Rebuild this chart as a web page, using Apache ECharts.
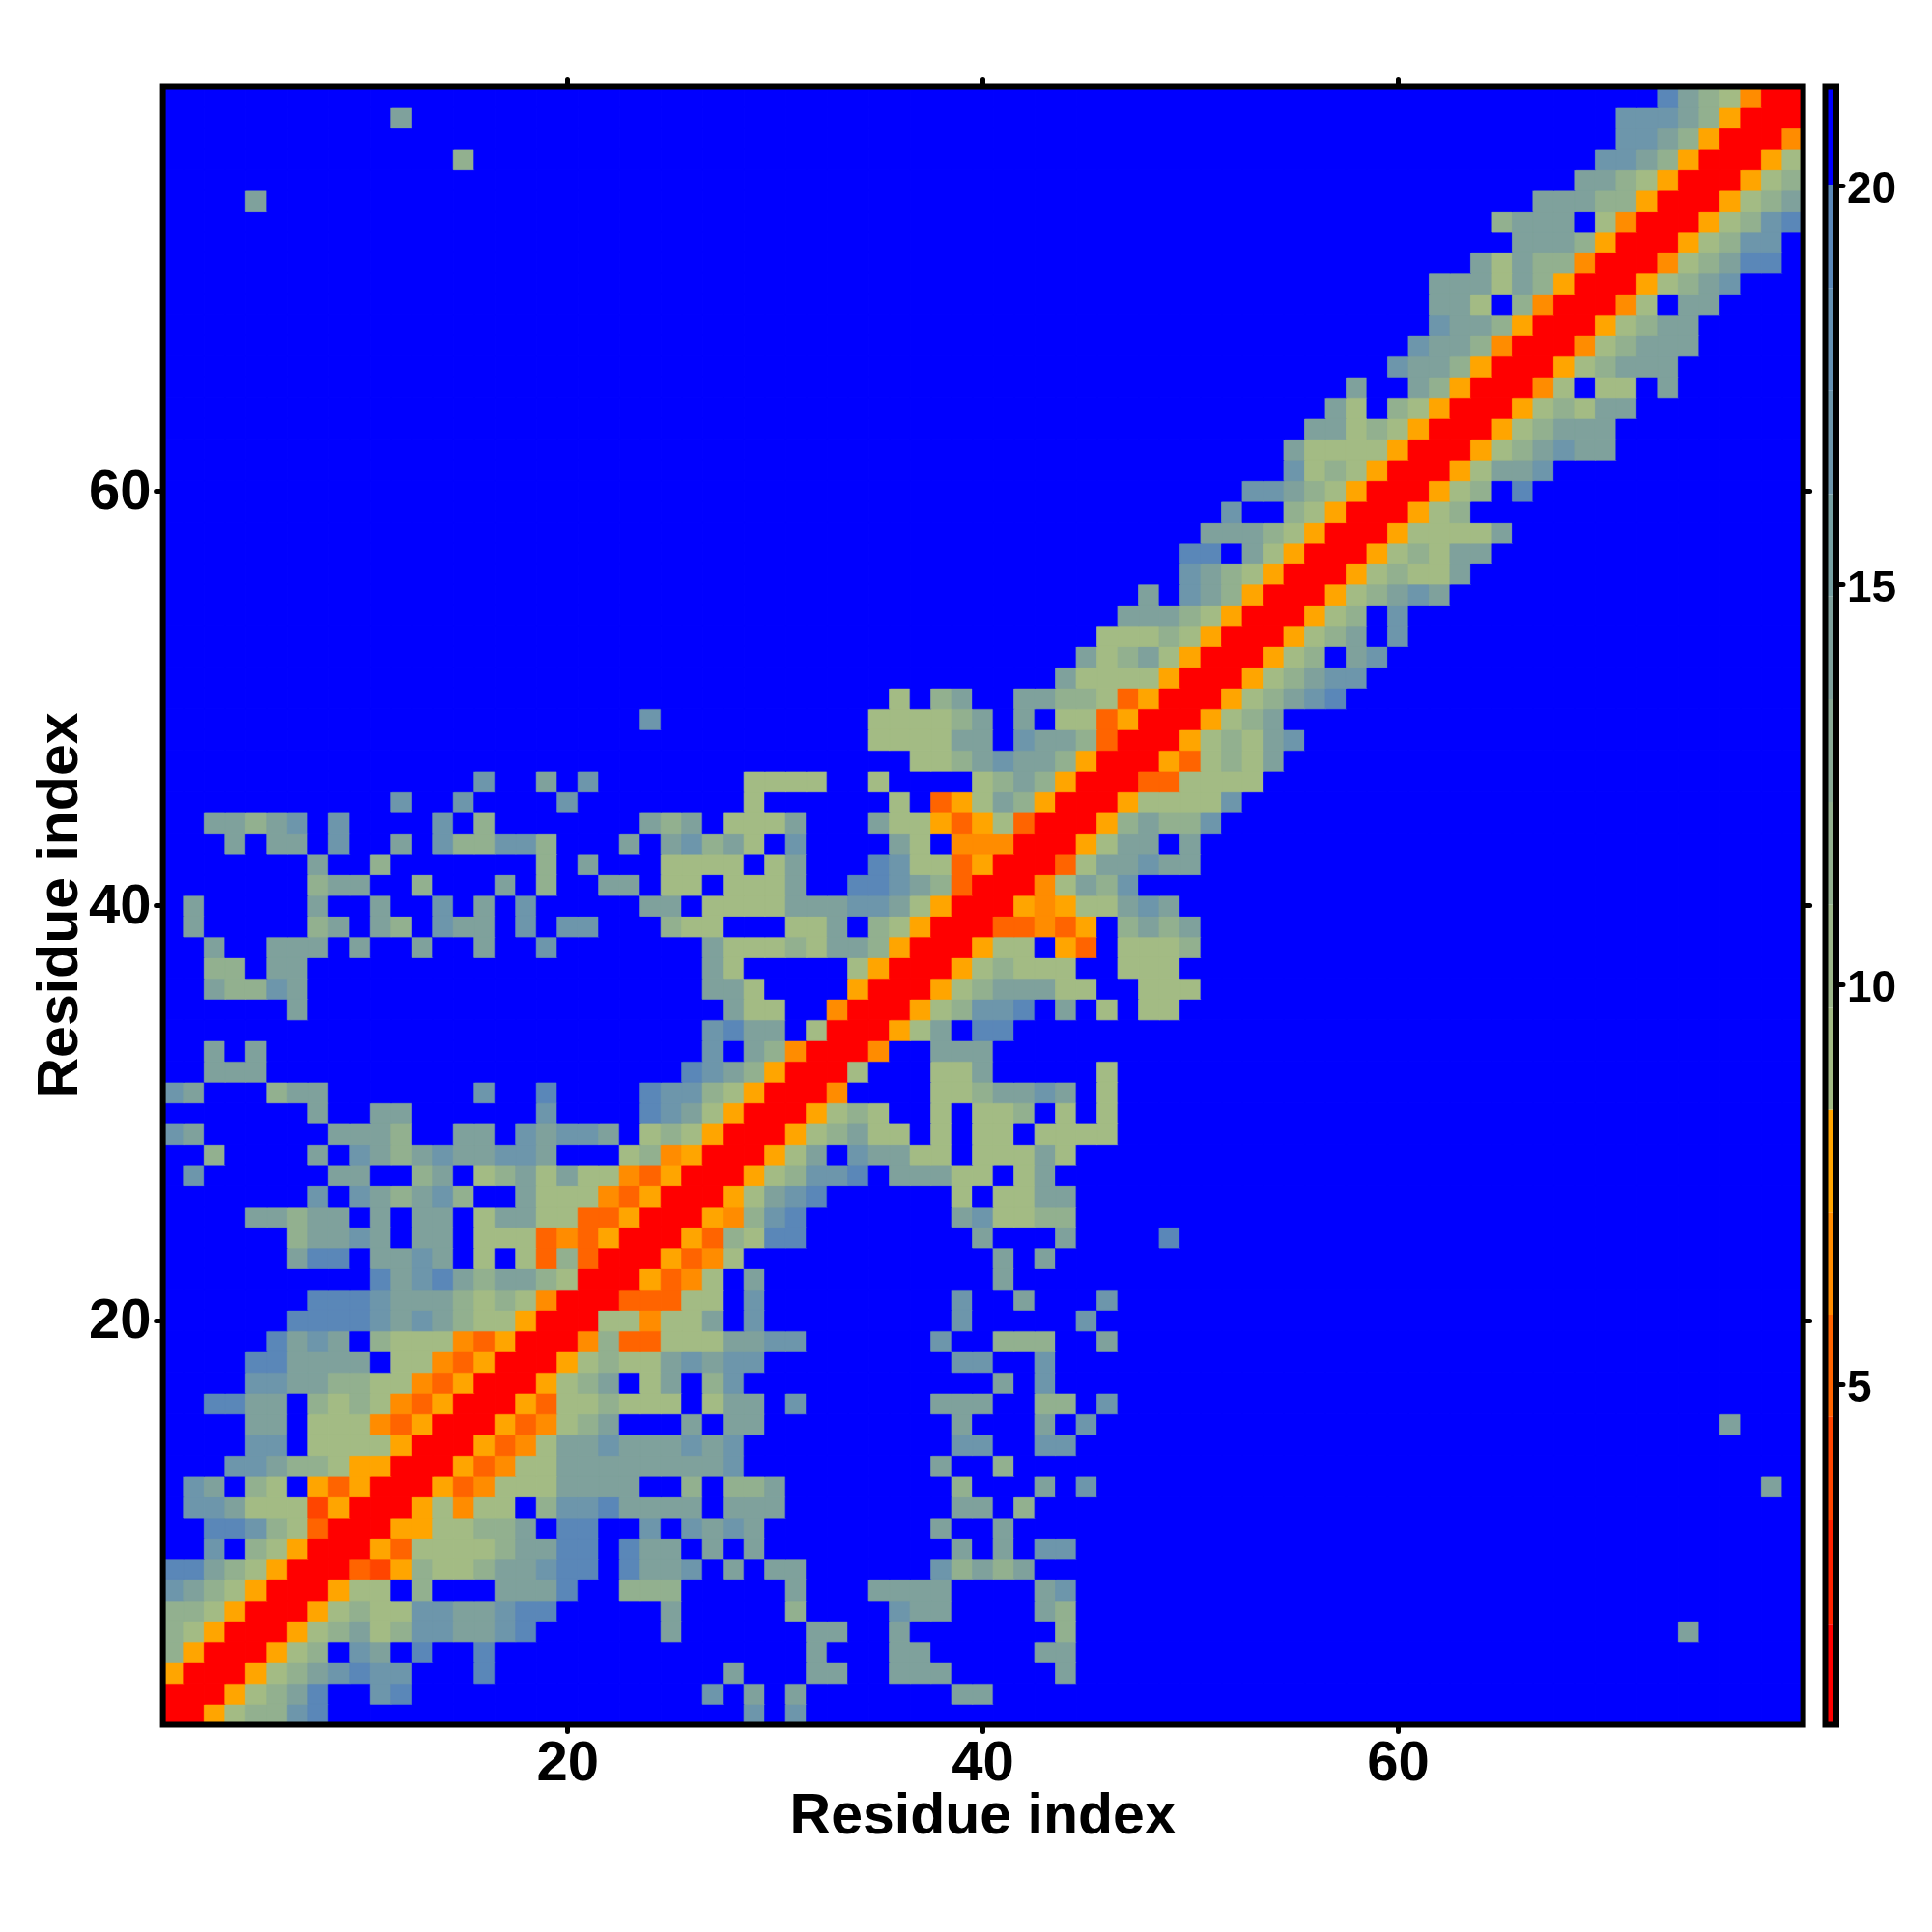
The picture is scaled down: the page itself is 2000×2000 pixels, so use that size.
<!DOCTYPE html>
<html>
<head>
<meta charset="utf-8">
<style>html,body{margin:0;padding:0;background:#fff}#c{width:2000px;height:2000px}</style>
<script src="https://cdn.jsdelivr.net/npm/echarts@6/dist/echarts.min.js"></script>
</head>
<body>
<div id="c"></div>
<script>
const residues = Array.from({length: 79}, (_, i) => String(i + 1));
// Contact-distance readings: one string per row, row 1 first. "col:codes", unlisted cells are the blue level.
const rowSegments = [
"1:RRa12245 29:4 31:4",
"1:RRRa1235 11:45 27:4 29:3 31:3 39:33",
"1:aRRRa12345 11:44 16:5 28:3 32:33 36:333 44:3",
"1:2aRRRa12 10:43 13:5 16:5 32:3 36:33 43:33",
"1:21aRRRa12312443345 25:3 32:33 36:3 44:2 74:3",
"1:221aRRRa12114433455 25:3 31:2 36:433 43:32",
"1:4321aRRRa11 13:2 17:3335 23:222 31:3 35:3333 43:34",
"1:55321aRRRsxa211233455 23:5334 28:3 30:33 38:42323",
"3:4 5:21aRRRas111123355 23:533 27:3 29:3 39:3 41:3 43:44",
"3:55421sRRRaa11223 20:55 24:4 26:4343 38:3 41:3",
"2:443111xaRRRa1o11 19:24453333 28:333 39:33 42:2",
"2:43 5:21 8:asaRRRaso1113333 26:2 28:223 39:2 43:3 45:4 78:3",
"4:443221aaRRRaso11 20:333333334 38:3 41:2",
"5:44 8:1111aRRRaso1334333434 39:44 43:44",
"5:33 8:111osaRRRaso123 26:3 28:33 39:3 43:3 45:4 76:3",
"3:5533 8:2121osaRRRas112111 27:133 31:4 38:333 43:22 46:4",
"5:44332211osaRRRa123 24:13 27:24 41:3 43:4",
"5:553333 12:11osaRRRa121134344 39:44 43:4",
"6:5343 11:2111osaRRRo2ss1113344 38:4 41:222 46:3",
"7:55554343211aRRR11o113 29:4 39:4 45:4",
"8:55543332121oRRRsss11 29:4 39:4 42:3 46:4",
"11:5345323321RRRaso1 29:3 41:3",
"7:355 11:3343 16:1 18:1s2sRRRaso1 41:3 43:3",
"7:23343 13:33 16:111sosaRRRas2155 40:3 44:3 49:5",
"5:33233 11:3 13:33 16:13311ssaRRRao245 39:341122",
"8:4 10:432342 18:3111osaRRRa1345 39:1 41:1133",
"2:4 9:33 13:23 16:1231311osaRRRa12445 36:333 39:11 42:13",
"3:2 8:3 10:4323433443 23:12oaRRRa13 34:43311 40:11131",
"1:43 9:3332 15:33 18:43443 24:121aRRRa123 35:11 38:1 40:11 43:1111",
"8:3 11:33 19:4 24:5431aRRRa121 38:1 40:112 44:1 46:1",
"1:43 6:233 16:4 19:5 24:54421aRRRo 38:1123343 46:1",
"3:333 26:5432aRRR1 38:113 46:1",
"3:3 5:3 27:4 29:32oRRRo 38:333",
"27:4533 32:1RRRa13 40:55",
"7:3 28:311 33:oRRRa12445 44:3 46:1 48:11",
"3:32243 27:331 34:aRRRa1233311 48:111",
"3:22 6:33 27:31 34:1aRRRa12111 47:111",
"3:3 6:333 10:3 13:3 16:3 19:4 27:311121332aRRRa11 44:as 47:1112",
"2:3 8:23 11:32 14:433 18:4 20:44 25:211 31:113 35:21aRRRssosa 47:2323",
"2:3 8:3 11:3 14:4 16:3 18:4 24:33 27:11113334431aRRRaoa11343",
"8:233 13:2 17:3 19:2 22:33 25:11 28:1113 34:55432sRRRo1324",
"8:3 11:2 19:2 21:3 25:1111 30:13 35:5411saRRRs133433",
"4:3 6:33 9:4 12:3 14:422442 23:3 25:34231 31:4 36:31 39:oooRRRa133 50:3",
"3:33234 9:4 14:4 16:2 24:323 28:1113 35:311asa1sRRRa23224",
"12:4 15:4 20:4 29:1 36:1 38:sa132aRRRa11114",
"16:4 19:3 21:4 29:1111 35:1 40:1232aRRRss1111",
"37:11234332aRRRas1213",
"35:111133 42:4332sRRRa12134",
"24:4 35:111123 42:3 44:11saRRRa123",
"36:1 38:23 42:33221saRRRa12345",
"44:31111aRRRa12344",
"45:31231aRRRa12 58:34",
"46:11121aRRRa123 60:4",
"47:33321aRRRa12 60:4",
"48:3 50:432aRRRa12343",
"50:4321aRRRa12113",
"50:55 53:31aRRRa12133",
"51:33321aRRRa11113",
"52:4 55:21aRRRa12",
"53:44321aRRRa12 66:5",
"55:4121aRRRa1334",
"55:31111aRRRa123433",
"56:33121aRRRa12333",
"57:31 60:21aRRRa12133",
"58:3 61:32aRRRo1 70:11 73:3",
"60:4332aRRRa12333",
"61:4332oRRRo12333",
"62:4332aRRRa1233",
"62:331 66:2oRRRo1 74:33",
"62:333132aRRRa1234",
"64:31322oRRRo12355",
"66:3332aRRRa1244",
"65:2333 70:1oRRRa1245",
"5:3 67:33322aRRRa123",
"69:3321aRRRa12",
"15:2 70:4432aRRRa1",
"71:4432aRRRo",
"12:3 71:44432aRRR",
"73:5321oRR"
];
const codeValues = {R:1.5, x:4, s:5.2, o:6.5, a:7.8, 1:9, 2:11.5, 3:14, 4:17, 5:19.5};
const emptyValue = 20.6;
const scaleMin = 0.74, scaleMax = 21.24;
const levelBreaks = [scaleMin,2,3.3,4.6,5.87,7.15,8.44,9.72,11,12.29,13.57,14.86,16.14,17.43,18.71,20,scaleMax];
const levelColors = ['#ff0000','#ff2200','#ff4500','#ff6400','#ff8c00','#ffa500','#a3bb84','#9cb689','#92b08f','#89aa96','#7fa19c','#76a0a2','#6d96ab','#6490b2','#5a87b8','#0000ff'];
const xTickLabels = ['20','40','60'];
const barTicks = [5,10,15,20];

const colorOf = v => levelColors[levelBreaks.findIndex((b, i) => v >= b && v < levelBreaks[i + 1])];
const cells = [];
residues.forEach((_, r) => {
  const row = new Array(79).fill(emptyValue);
  rowSegments[r].split(' ').forEach(seg => {
    const [start, codes] = seg.split(':');
    [...codes].forEach((c, k) => { row[+start - 1 + k] = codeValues[c]; });
  });
  row.forEach((v, c) => cells.push({value:[c, r, v], itemStyle:{borderColor:colorOf(v), borderWidth:0.8}}));
});

const font = 'Liberation Sans';
const tickInterval = (i, v) => xTickLabels.includes(String(v));
const tickStyle = {show:true, alignWithLabel:true, interval:tickInterval, length:7, lineStyle:{color:'#000', width:5, cap:'round'}};
const labelStyle = {show:true, interval:tickInterval, color:'#000', fontFamily:font, fontWeight:'bold', fontSize:58, margin:12};
const nameStyle = {color:'#000', fontFamily:font, fontWeight:'bold', fontSize:59};

const bandSeries = levelColors.map((color, i) => ({
  type:'bar', xAxisIndex:2, yAxisIndex:2, stack:'bar', barWidth:'100%', silent:true,
  itemStyle:{color}, data:[[0, i === 0 ? levelBreaks[1] : levelBreaks[i+1] - levelBreaks[i]]],
  animation:false
}));

const chart = echarts.init(document.getElementById('c'), null, {renderer:'canvas'});
chart.setOption({
  animation:false,
  backgroundColor:'#fff',
  grid:[
    {left:168.6, top:89.5, width:1698, height:1696, show:true, z:10, backgroundColor:'transparent', borderColor:'#000', borderWidth:6},
    {left:1889.5, top:89.5, width:11.5, height:1696, show:true, z:10, backgroundColor:'transparent', borderColor:'#000', borderWidth:6}
  ],
  xAxis:[
    {type:'category', gridIndex:0, data:residues, position:'bottom', axisLine:{show:false}, axisTick:tickStyle, axisLabel:labelStyle,
     name:'Residue index', nameLocation:'middle', nameMoveOverlap:false, nameGap:67, nameTextStyle:nameStyle, splitLine:{show:false}},
    {type:'category', gridIndex:0, data:residues, position:'top', axisLine:{show:false}, axisTick:tickStyle, axisLabel:{show:false}, splitLine:{show:false}},
    {type:'category', gridIndex:1, data:['bar'], axisLine:{show:false}, axisTick:{show:false}, axisLabel:{show:false}, splitLine:{show:false}}
  ],
  yAxis:[
    {type:'category', gridIndex:0, data:residues, position:'left', axisLine:{show:false}, axisTick:tickStyle, axisLabel:{...labelStyle, verticalAlign:'top', lineHeight:5},
     name:'Residue index', nameLocation:'middle', nameMoveOverlap:false, nameGap:75, nameTextStyle:nameStyle, splitLine:{show:false}},
    {type:'category', gridIndex:0, data:residues, position:'right', axisLine:{show:false}, axisTick:tickStyle, axisLabel:{show:false}, splitLine:{show:false}},
    {type:'value', gridIndex:1, position:'right', min:scaleMin, max:scaleMax, axisLine:{show:false}, splitLine:{show:false},
     axisTick:{show:true, customValues:barTicks, length:7, lineStyle:{color:'#000', width:5, cap:'round'}},
     axisLabel:{show:true, customValues:barTicks, color:'#000', fontFamily:font, fontWeight:'bold', fontSize:46, margin:11, verticalAlign:'top', lineHeight:10}}
  ],
  visualMap:{
    type:'piecewise', show:false, seriesIndex:0, dimension:2,
    pieces:levelColors.map((color, i) => ({gte:levelBreaks[i], lt:levelBreaks[i+1], color}))
  },
  series:[
    {type:'heatmap', xAxisIndex:0, yAxisIndex:0, data:cells, progressive:0, silent:true, emphasis:{disabled:true}},
    ...bandSeries
  ]
});
</script>
</body>
</html>
